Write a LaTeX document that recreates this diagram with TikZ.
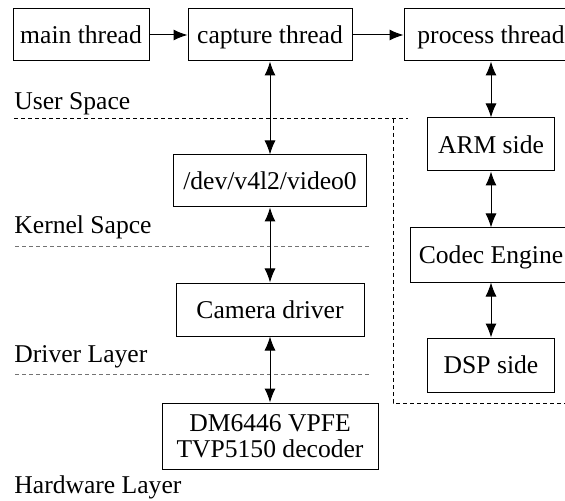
\documentclass[tikz,border=0pt]{standalone}
\usepackage{fontspec}
\setmainfont{Liberation Serif}
\usetikzlibrary{arrows.meta}
\begin{document}
\begin{tikzpicture}[x=0.5pt,y=-0.5pt,
  font=\fontsize{12.8}{13}\selectfont,
  box/.style={draw,line width=0.5pt,inner sep=0pt,align=center,
              minimum width=#1,text depth=0pt},
  box/.default=130pt,
  tip/.tip={Latex[length=7pt,width=5.5pt]},
  link/.style={line width=0.5pt,-tip},
  dlink/.style={line width=0.5pt,tip-tip},
  layer/.style={anchor=west,inner sep=0pt},
  sep/.style={line width=0.5pt,dash pattern=on 2pt off 1.5pt},
  gsep/.style={sep,draw=black!55}]
\useasboundingbox (0,0) rectangle (565,501);
\clip (0,0) rectangle (565,501);

% threads
\node[box=68pt,minimum height=26pt] (main) at (81,35) {main thread};
\node[box=82pt,minimum height=26pt] (capture) at (270,35) {capture thread};
\node[box=87pt,minimum height=26pt] (process) at (491,35) {process thread};

% capture path
\node[box=96.5pt,minimum height=26pt] (dev) at (270,181) {/dev/v4l2/video0};
\node[box=94pt,minimum height=26.5pt] (cam) at (270,309.5) {Camera driver};
\node[box=108pt,minimum height=33pt] (dm) at (270,436) {DM6446 VPFE\\TVP5150 decoder};

% processing path
\node[box=63.5pt,minimum height=26.5pt] (arm) at (491,144.5) {ARM side};
\node[box=81pt,minimum height=27pt] (codec) at (491,255) {Codec Engine};
\node[box=63.5pt,minimum height=27pt] (dsp) at (491,365) {DSP side};

% layer labels
\node[layer] (lus) at (14,104) {User Space};
\node[layer] (lks) at (14,227) {Kernel Sapce};
\node[layer] (ldl) at (14,357) {Driver Layer};
\node[layer] (lhl) at (14,487) {Hardware Layer};

% layer separators
\coordinate (u0) at (14,119);
\coordinate (u1) at (408,119);
\coordinate (v0) at (393,119);
\coordinate (v1) at (393,403);
\coordinate (v2) at (570,403);
\draw[sep] (u0) -- (u1);
\draw[sep] (v0) -- (v1) -- (v2);
\coordinate (k0) at (15,247);
\coordinate (k1) at (370,247);
\coordinate (d0) at (15,374);
\coordinate (d1) at (370,374);
\draw[gsep] (k0) -- (k1);
\draw[gsep] (d0) -- (d1);

% connectors
\draw[link] (main) -- (capture);
\draw[link] (capture) -- (process);
\draw[dlink] (capture) -- (dev);
\draw[dlink] (dev) -- (cam);
\draw[dlink] (cam) -- (dm);
\draw[dlink] (process) -- (arm);
\draw[dlink] (arm) -- (codec);
\draw[dlink] (codec) -- (dsp);
\end{tikzpicture}
\end{document}
